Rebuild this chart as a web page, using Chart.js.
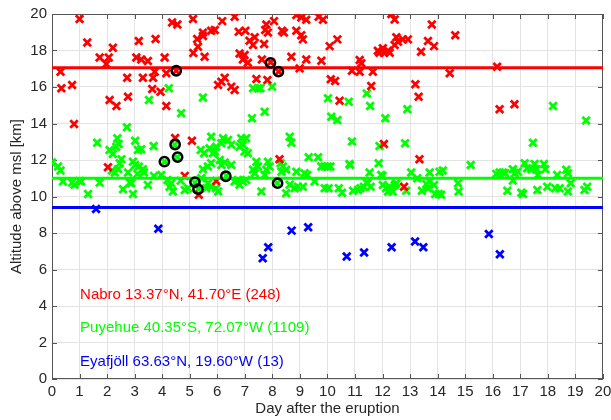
<!DOCTYPE html>
<html><head><meta charset="utf-8">
<script src="https://cdn.jsdelivr.net/npm/chart.js@4"></script>
<style>html,body{margin:0;padding:0;background:#fff}#wrap{width:611px;height:420px}</style>
</head><body><div id="wrap"><canvas id="c" width="611" height="420"></canvas></div>
<script>
// ---- tick values ----
const xTickValues = [0,1,2,3,4,5,6,7,8,9,10,11,12,13,14,15,16,17,18,19,20];
const yTickValues = [0,2,4,6,8,10,12,14,16,18,20];

// ---- mean altitudes (horizontal lines) ----
const nabroMean = 17.05;
const puyehueMean = 11.0;
const eyafMean = 9.4;

// ---- labels ----
const seriesLabels = ["Nabro 13.37°N, 41.70°E (248)", "Puyehue 40.35°S, 72.07°W (1109)", "Eyafjöll 63.63°N, 19.60°W (13)"];

// ---- Nabro [day, km] ----
const nabroPoints = [
[1.00,19.72],[1.28,18.44],[2.21,18.15],[1.73,17.62],[2.06,17.62],[1.97,17.26],[0.31,16.84],[0.34,15.93],[0.73,16.11],
[2.09,15.29],[2.34,14.96],[0.80,13.97],[2.73,16.51],[2.76,15.47],[3.15,18.52],[3.06,17.62],[3.24,17.51],[3.48,17.42],
[3.76,18.63],[3.30,16.51],[3.67,16.51],[3.73,16.84],[3.64,15.89],[3.94,15.74],[4.09,17.62],[4.15,16.75],[4.15,14.96],
[4.36,19.54],[4.55,19.43],[5.13,17.86],[4.51,16.89],[4.47,13.2],[5.08,13.06],[2.03,11.6],[4.82,11.13],[5.33,10.09],[5.96,10.85],
[5.12,19.72],[6.18,19.61],[6.63,19.85],[5.27,18.63],[5.48,18.98],[5.48,18.79],[5.78,19.08],[5.91,19.12],[5.30,18.2],
[5.54,17.66],[6.78,19.03],[7.02,19.08],[7.17,18.53],[7.36,18.72],[7.30,18.30],[7.70,18.35],[7.78,19.43],[7.84,18.98],
[7.74,19.12],[8.06,19.61],[8.35,19.08],[8.42,18.98],[8.87,19.94],[9.05,19.81],[9.23,19.69],[8.87,19.08],[9.05,18.84],
[9.11,18.61],[9.68,19.85],[9.84,19.69],[10.08,18.24],[6.81,17.84],[6.99,17.75],[6.93,17.51],[7.11,17.33],[7.62,17.51],
[8.69,17.66],[9.23,17.51],[9.78,17.44],[8.99,17.02],[7.82,16.38],[7.42,16.44],[7.94,17.35],[8.23,16.84],[6.03,16.11],
[6.15,16.29],[6.27,16.51],[6.51,16.02],[6.63,15.83],[10.12,16.42],[8.26,12.04],
[12.32,20.0],[12.44,19.70],[13.79,19.43],[14.64,18.84],[10.36,18.61],[12.50,18.72],[12.56,18.48],[12.92,18.61],[12.74,18.61],
[12.44,18.30],[11.83,17.99],[12.01,18.12],[12.20,17.99],[12.05,17.88],[12.26,17.88],[11.89,17.88],[13.65,18.52],[13.87,18.24],
[13.40,17.93],[11.17,17.48],[11.23,17.30],[10.89,16.89],[11.17,16.84],[11.65,16.84],[14.44,16.75],[10.28,16.33],[11.59,16.05],
[13.19,16.15],[13.31,15.47],[10.44,15.25],[12.05,12.88],[13.34,12.04],[12.78,10.54],
[16.16,17.11],[16.25,14.78],[16.79,15.05]
];

// ---- Puyehue [day, km] ----
const puyehuePoints = [
[4.24,15.93],[3.52,15.29],[4.69,14.56],[2.72,13.79],[5.48,15.43],[7.30,15.93],[7.48,15.93],[7.57,15.93],[7.99,16.02],
[7.72,14.65],[7.26,14.29],[10.02,15.38],[10.14,14.37],[10.36,14.19],[10.77,15.19],[11.43,15.65],[11.55,14.96],[12.90,14.78],
[12.10,14.29],[18.19,14.96],[19.39,14.16],[17.46,12.95],
[1.64,12.95],[2.37,13.19],[2.42,12.88],[2.33,12.73],[3.02,13.06],[3.12,12.55],[3.24,12.59],[3.69,12.77],[2.09,12.55],[2.21,12.33],
[5.78,13.28],[6.21,13.19],[6.39,13.10],[6.51,12.83],[6.15,12.92],[5.96,12.73],[6.87,13.19],[7.05,13.19],[6.93,12.83],
[6.81,12.73],[7.11,12.37],[6.99,12.46],[5.40,12.55],[5.52,12.37],[5.72,12.64],[5.84,12.37],[5.91,12.46],[8.63,13.28],
[8.69,12.95],[10.89,13.01],[11.89,12.77],[12.82,12.92],[9.32,12.15],[9.66,12.15],
[0.00,11.86],[0.22,11.64],[0.31,11.42],[0.40,10.82],[0.73,10.76],[0.82,10.64],[1.00,10.85],[1.06,10.82],[1.31,10.14],
[1.73,10.76],[2.52,12.04],[2.46,11.82],[2.40,11.49],[2.18,11.42],[2.28,11.31],[2.94,11.91],[3.02,11.73],[3.15,11.64],
[3.30,11.49],[3.34,11.31],[3.10,11.24],[2.76,11.31],[2.82,10.76],[2.58,10.40],[2.88,10.73],[2.94,10.14],[3.48,10.63],
[3.70,11.13],[3.97,11.18],[4.19,10.91],[4.33,10.73],[4.27,10.54],[4.39,10.27],[4.82,10.36],[4.94,10.45],[4.67,10.87],
[6.09,12.00],[6.27,11.86],[6.15,11.73],[6.51,11.73],[5.78,11.82],[5.66,11.64],[5.48,11.49],[7.42,11.91],[7.48,11.64],
[7.30,11.46],[7.36,11.28],[7.84,11.91],[7.90,11.64],[7.78,11.46],[7.72,11.18],[8.30,11.82],[8.38,11.64],[8.50,11.46],
[8.33,11.36],[8.87,11.36],[9.17,11.28],[9.27,11.18],[9.78,11.64],[9.90,11.64],[10.02,11.64],[6.63,10.82],[6.81,10.64],
[6.75,10.91],[6.93,10.82],[7.05,10.91],[7.60,10.27],[8.50,10.18],[8.63,10.64],[8.81,10.45],[8.93,10.54],[9.11,10.54],
[9.53,10.82],[9.90,10.45],[5.66,10.73],[5.60,10.45],[5.78,10.54],[5.96,10.45],[6.03,10.27],[5.42,11.00],
[4.09,11.91],[4.45,12.83],[4.55,12.15],[5.19,10.76],[5.31,10.40],[6.33,11.13],[8.18,10.73],
[10.80,11.78],[10.11,11.64],[11.86,11.82],[11.53,11.31],[11.95,11.18],[13.04,11.31],[13.26,11.00],[13.71,11.31],[14.07,11.36],
[14.19,11.42],[15.20,11.73],[10.04,10.45],[10.41,10.45],[10.53,10.21],[10.93,10.32],[11.11,10.36],[11.20,10.45],[11.45,10.73],
[11.32,10.54],[11.57,10.54],[12.01,10.63],[12.13,10.45],[12.26,10.54],[12.37,10.27],[12.44,10.63],[12.50,10.73],[12.20,10.27],
[12.86,10.32],[13.43,10.32],[13.59,10.69],[13.65,10.45],[13.71,10.82],[13.87,10.63],[13.91,10.14],[14.04,10.14],[14.13,10.09],
[14.74,10.73],[14.76,10.27],[12.00,11.13],[11.42,10.76],[10.82,11.73],
[16.13,11.24],[16.25,11.31],[16.37,11.31],[16.45,11.28],[16.73,11.49],[16.80,11.28],[16.91,11.36],[16.73,10.87],[17.16,11.82],
[17.25,11.55],[17.40,11.49],[17.52,11.78],[17.58,11.49],[17.64,11.18],[17.86,11.78],[17.91,11.49],[18.34,11.18],[18.67,11.46],
[18.73,11.28],[18.83,10.73],[16.53,10.32],[17.04,10.21],[17.10,10.14],[17.62,10.36],[17.98,10.54],[18.27,10.45],[18.43,10.45],
[18.73,10.27],[19.33,10.36],[19.43,10.54]
];

// ---- Eyafjoell [day, km] ----
const eyafPoints = [
[1.60,9.32],[3.86,8.23],[7.65,6.62],[7.85,7.22],[8.70,8.13],[9.30,8.32],[10.70,6.71],[11.33,6.93],[12.33,7.22],
[13.18,7.53],[13.48,7.22],[15.86,7.94],[16.26,6.84]
];

// ---- highlighted (circled) observations [day, km] ----
const circledPoints = [
[4.51,16.89],[7.93,17.32],[8.22,16.84],[4.08,11.91],[4.47,12.85],[4.56,12.16],[5.19,10.79],[5.30,10.40],[6.31,11.11],[8.19,10.73]
];

const toXY = arr => arr.map(p => ({x: p[0], y: p[1]}));
const hLine = v => [{x: xTickValues[0], y: v}, {x: xTickValues[xTickValues.length-1], y: v}];

const FONT = "'Liberation Sans', Arial, sans-serif";
const TXT = '#262626';

const boxPlugin = {
  id: 'box',
  beforeDatasetsDraw(chart) {
    const {ctx, chartArea: a, scales: {x, y}} = chart;
    ctx.save();
    ctx.strokeStyle = '#555';
    ctx.lineWidth = 1;
    ctx.beginPath();
    xTickValues.forEach(v => {
      const px = Math.round(x.getPixelForValue(v)) + 0.5;
      ctx.moveTo(px, a.bottom); ctx.lineTo(px, a.bottom - 5);
      ctx.moveTo(px, a.top); ctx.lineTo(px, a.top + 5);
    });
    yTickValues.forEach(v => {
      const py = Math.round(y.getPixelForValue(v)) + 0.5;
      ctx.moveTo(a.left, py); ctx.lineTo(a.left + 5, py);
      ctx.moveTo(a.right, py); ctx.lineTo(a.right - 5, py);
    });
    ctx.stroke();
    ctx.strokeRect(Math.round(a.left) + 0.5, Math.round(a.top) + 0.5, Math.round(a.width) - 1, Math.round(a.height) - 1);
    ctx.restore();
  },
  afterDatasetsDraw(chart) {
    const {ctx, scales: {x, y}} = chart;
    const colors = ['#ff0000', '#00ff00', '#0000ff'];
    const ys = [4.61, 2.82, 0.93];
    ctx.save();
    ctx.font = '15px ' + FONT;
    ctx.textBaseline = 'middle';
    ctx.textAlign = 'left';
    seriesLabels.forEach((t, i) => {
      ctx.fillStyle = colors[i];
      ctx.fillText(t, x.getPixelForValue(1.02), y.getPixelForValue(ys[i]));
    });
    ctx.restore();
  }
};

new Chart(document.getElementById('c'), {
  type: 'scatter',
  data: {
    datasets: [
      {data: toXY(circledPoints), pointStyle: 'circle', pointRadius: 4.6, borderColor: '#000', backgroundColor: 'rgba(0,0,0,0)', borderWidth: 2.6, order: 0},
      {type: 'line', data: hLine(nabroMean), borderColor: '#ff0000', borderWidth: 3, pointRadius: 0, order: 1},
      {type: 'line', data: hLine(puyehueMean), borderColor: '#00ff00', borderWidth: 3, pointRadius: 0, order: 1},
      {type: 'line', data: hLine(eyafMean), borderColor: '#0000ff', borderWidth: 3, pointRadius: 0, order: 1},
      {data: toXY(eyafPoints), pointStyle: 'crossRot', pointRadius: 5.3, borderColor: '#0000ff', borderWidth: 2.8, order: 2},
      {data: toXY(nabroPoints), pointStyle: 'crossRot', pointRadius: 5.3, borderColor: '#ff0000', borderWidth: 2.8, order: 3},
      {data: toXY(puyehuePoints), pointStyle: 'crossRot', pointRadius: 5.3, borderColor: '#00ff00', borderWidth: 2.8, order: 4}
    ]
  },
  options: {
    responsive: false,
    devicePixelRatio: 1,
    animation: false,
    layout: {padding: {top: 14, right: 8, left: 0, bottom: 0}},
    plugins: {legend: {display: false}, tooltip: {enabled: false}},
    scales: {
      x: {
        type: 'linear', min: 0, max: 20,
        afterBuildTicks: s => { s.ticks = xTickValues.map(v => ({value: v})); },
        afterFit: s => { s.height = 41; s.paddingLeft = 0; s.paddingRight = 0; },
        grid: {color: '#e3e3e3', drawTicks: false},
        border: {display: false},
        ticks: {color: TXT, font: {family: FONT, size: 15}, padding: 4, maxRotation: 0, autoSkip: false},
        title: {display: true, text: 'Day after the eruption', color: TXT, font: {family: FONT, size: 15}, padding: {top: 0, bottom: 2}}
      },
      y: {
        type: 'linear', min: 0, max: 20,
        afterBuildTicks: s => { s.ticks = yTickValues.map(v => ({value: v})); },
        afterFit: s => { s.width = 52; s.paddingTop = 0; s.paddingBottom = 0; },
        grid: {color: '#e3e3e3', drawTicks: false},
        border: {display: false},
        ticks: {color: TXT, font: {family: FONT, size: 15}, padding: 5, autoSkip: false},
        title: {display: true, text: 'Altitude above msl [km]', color: TXT, font: {family: FONT, size: 15}, padding: {top: 8, bottom: 0}}
      }
    }
  },
  plugins: [boxPlugin]
});
</script></body></html>
